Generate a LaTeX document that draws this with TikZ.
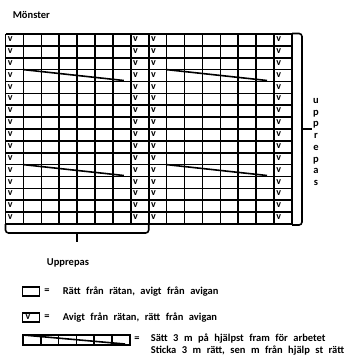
\documentclass[tikz,border=0pt]{standalone}
\usepackage{fontspec}
\setmainfont{Carlito}
\newcommand\widespaces{\spaceskip=5.5pt\relax}
\begin{document}
\begin{tikzpicture}[x=1pt,y=-1pt,line width=1.6pt,
  lbl/.style={font=\bfseries\fontsize{10.5}{12}\selectfont,inner sep=0pt},
  keytxt/.style={lbl,anchor=west},
  vmark/.style={font=\bfseries\fontsize{10}{10}\selectfont,inner sep=0pt},
  keybox/.style={draw,line width=1.6pt,minimum width=17pt,minimum height=9.5pt,inner sep=0pt},
  brace/.style={line width=1.6pt,rounded corners=3pt},
  tick/.style={line width=2.4pt},
  ]
\useasboundingbox (0,0) rectangle (343,356);
\def\cw{17.9}\def\ch{11.875}
% title
\node[lbl,anchor=west] (title) at (12,14.5) {Mönster };
% grid
\foreach \i in {0,...,16} \draw ({5.5+\i*\cw},34) -- ({5.5+\i*\cw},224);
\foreach \j in {0,...,16} \draw (5.5,{34+\j*\ch}) -- (292,{34+\j*\ch});
\foreach \c in {0,7,8,15} \foreach \r in {0,...,15}
  \node[vmark] at ({5.5+\c*\cw+4.8},{34+(\r+0.5)*\ch-0.8}) {v};
% cables
\foreach \r in {3,11} \foreach \c in {1,9}
  \draw ({5.5+\c*\cw},{34+\r*\ch}) -- ({5.5+(\c+6)*\cw-7},{34+(\r+1)*\ch-1});
% right brace
\coordinate (rtop) at (292,33.5);
\coordinate (rbot) at (292,225);
\coordinate (rmid) at (302,129);
\draw[brace] (rtop) -- (302,33.5) -- (302,225) -- (rbot);
\draw[tick] (rmid) -- ++(9.5,0);
\node[font=\bfseries\fontsize{10.5}{11.7}\selectfont,inner sep=0pt,align=center] (rep) at (316,142) {u\\p\\p\\r\\e\\p\\a\\s};
% bottom brace
\coordinate (bl) at (5.5,224);
\coordinate (br) at (148.7,224);
\coordinate (bmid) at (77,233);
\draw[brace] (bl) -- (5.5,233) -- (148.7,233) -- (br);
\draw[tick,line width=2pt] (bmid) -- ++(0,9);
\node[lbl] (upp) at (68,263) {Upprepas};
% legend
\node[keybox] (key1) at (31,291.5) {};
\node[lbl] (eq1) at (47,291.5) {=};
\node[keytxt] (txt1) at (62,291.5) {\widespaces Rätt från rätan, avigt från avigan};
\node[keybox] (key2) at (31,317.5) {};
\node[vmark] at (28,316.8) {v};
\node[lbl] (eq2) at (47,317.5) {=};
\node[keytxt] (txt2) at (62,317.5) {\widespaces Avigt från rätan, rätt från avigan};
\foreach \i in {0,...,5}
  \draw ({23+\i*17.8},335) rectangle ({23+(\i+1)*17.8},345);
\draw (23,335) -- (125,344);
\node[lbl] (eq3) at (137,339) {=};
\node[keytxt] (txt3a) at (150,339) {\widespaces Sätt 3 m på hjälpst fram för arbetet};
\node[keytxt] (txt3b) at (150,350.5) {\widespaces Sticka 3 m rätt, sen m från hjälp st rätt};
\end{tikzpicture}
\end{document}
